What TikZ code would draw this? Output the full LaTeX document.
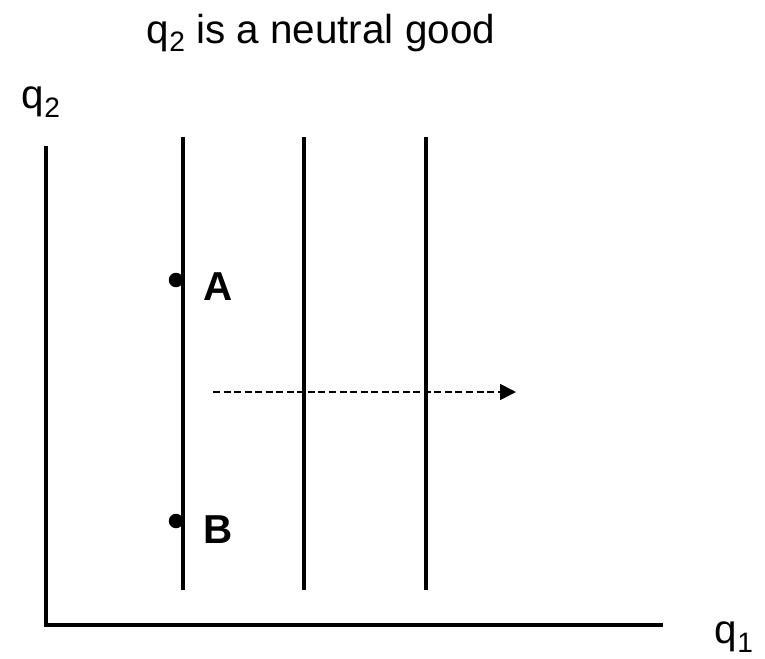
\documentclass[tikz,border=0pt]{standalone}
\usepackage{fontspec}
\setmainfont{Liberation Sans}
\usepackage{tikz}
\usetikzlibrary{arrows.meta, positioning}
\newcommand{\qsub}[1]{\raisebox{-0.4ex}{\fontsize{16}{16}\selectfont #1}}

\begin{document}
\begin{tikzpicture}[
    x=0.02cm, y=-0.02cm,
    font=\fontsize{23}{27}\selectfont,
    axis/.style={line width=2.2pt, line cap=rect},
    indiff/.style={line width=1.9pt},
    moveto/.style={-{Triangle[length=3.2mm, width=3.2mm]}, line width=1pt, dash pattern=on 4pt off 2pt},
    pt/.style={circle, fill=black, inner sep=0pt, minimum size=0.29cm},
    lbl/.style={font=\fontsize{23}{27}\selectfont\bfseries},
]
\useasboundingbox (0,0) rectangle (765,659);

% titulo y ejes
\node (title) at (321,33) {q\qsub{2} is a neutral good};
\coordinate (origin) at (46,625);
\coordinate (ytop) at (46,148);
\coordinate (xend) at (661,625);
\draw[axis] (ytop) -- (origin) -- (xend);
\node (ylab) at (41,102) {q\qsub{2}};
\node (xlab) at (734,637) {q\qsub{1}};

% curvas de indiferencia
\foreach \x [count=\i] in {183,304,426} {
    \coordinate (top\i) at (\x,137);
    \coordinate (bot\i) at (\x,590);
    \draw[indiff] (top\i) -- (bot\i);
}

% cestas A y B
\node[pt] (ptA) at (176,280) {};
\node[pt] (ptB) at (176,521) {};
\node[lbl] (labA) at (218,287) {A};
\node[lbl] (labB) at (218,530) {B};

% desplazamiento
\coordinate (moveS) at (213,392);
\coordinate (moveE) at (516,392);
\draw[moveto] (moveS) -- (moveE);

\end{tikzpicture}
\end{document}
